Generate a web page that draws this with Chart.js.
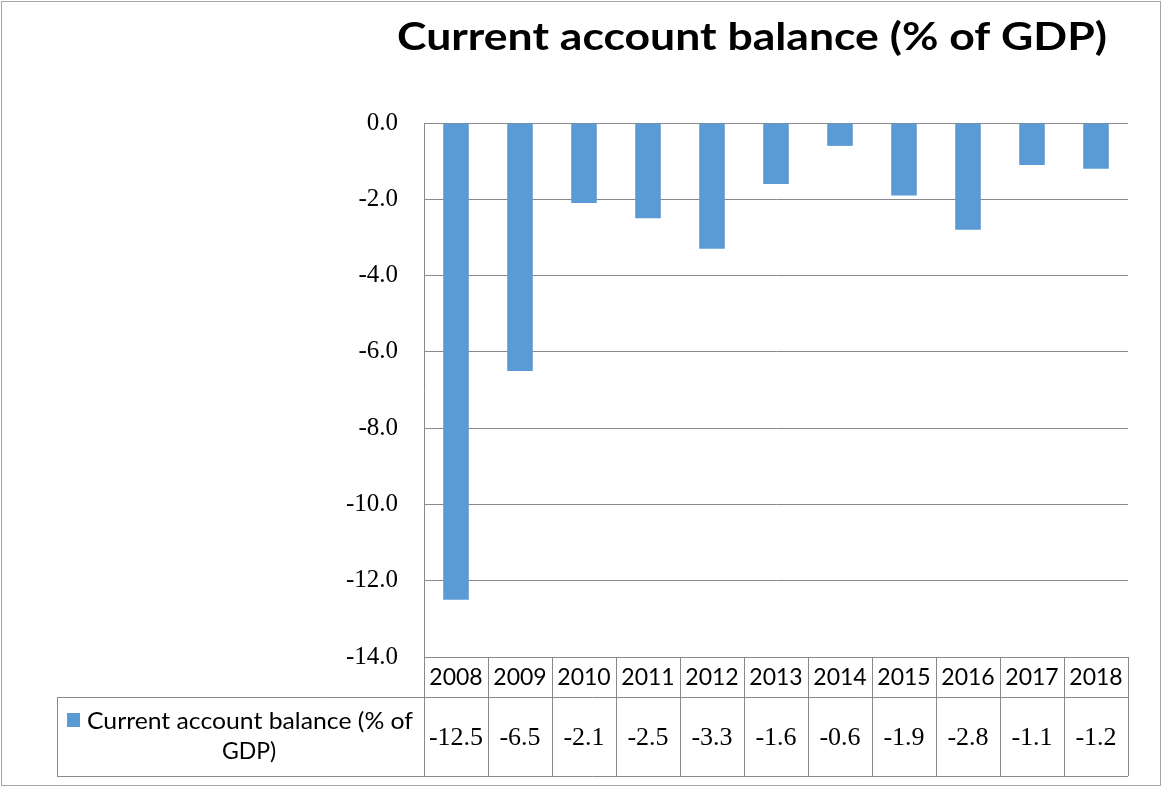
<!DOCTYPE html>
<html>
<head>
<meta charset="utf-8">
<script src="https://cdn.jsdelivr.net/npm/chart.js@4.4.0/dist/chart.umd.min.js"></script>
<style>
  html, body { margin: 0; padding: 0; background: #fff; }
  canvas { display: block; }
</style>
</head>
<body>
<canvas id="ca-chart" width="1164" height="789"></canvas>
<script>
(function(){
  'use strict';

  const TITLE = 'Current account balance (% of GDP)';
  const SERIES_NAME = ['Current account balance (% of', 'GDP)'];
  const years = ['2008', '2009', '2010', '2011', '2012', '2013', '2014', '2015', '2016', '2017', '2018'];
  const balance = [-12.5, -6.5, -2.1, -2.5, -3.3, -1.6, -0.6, -1.9, -2.8, -1.1, -1.2];
  const yMin = -14;
  const yMax = 0;
  const yStep = 2;

  const BLUE = '#5b9bd5';
  const GRID = '#898989';
  const SANS = 'Lato, "Open Sans", sans-serif';
  const SERIF = '"Liberation Serif", "DejaVu Serif", serif';

  // draw text stretched to a given width (the original is a scaled-up Excel chart)
  function stretchText(ctx, text, cx, y, width) {
    const w = ctx.measureText(text).width;
    ctx.save();
    ctx.translate(cx, y);
    ctx.scale(width / w, 1);
    ctx.fillText(text, 0, 0);
    ctx.restore();
  }

  // header band 40px, value row 79px, legend cell starts at x=57
  const tablePlugin = {
    id: 'dataTable',
    afterDraw(chart) {
      const ctx = chart.ctx;
      const x = chart.scales.x;
      const area = chart.chartArea;
      const colW = (area.right - area.left) / years.length;
      const top = area.bottom;
      const mid = top + 40;
      const bot = mid + 79;
      const legendLeft = 57;

      ctx.save();
      ctx.strokeStyle = GRID;
      ctx.lineWidth = 1;
      ctx.beginPath();
      ctx.moveTo(area.left, top + 0.5); ctx.lineTo(area.right, top + 0.5);
      ctx.moveTo(legendLeft, mid + 0.5); ctx.lineTo(area.right, mid + 0.5);
      ctx.moveTo(legendLeft, bot + 0.5); ctx.lineTo(area.right, bot + 0.5);
      ctx.moveTo(legendLeft + 0.5, mid); ctx.lineTo(legendLeft + 0.5, bot);
      for (let i = 0; i <= years.length; i++) {
        const px = Math.round(area.left + i * colW) + 0.5;
        ctx.moveTo(px, top); ctx.lineTo(px, bot);
      }
      ctx.stroke();

      ctx.fillStyle = '#000';
      ctx.textAlign = 'center';
      ctx.textBaseline = 'middle';
      years.forEach((yr, i) => {
        const cx = x.getPixelForValue(i);
        ctx.font = '23px ' + SANS;
        ctx.fillText(yr, cx, top + 21);
        ctx.font = '26px ' + SERIF;
        ctx.fillText(balance[i].toFixed(1), cx, mid + 41);
      });

      // legend key in the row header
      ctx.fillStyle = BLUE;
      ctx.fillRect(67, 713, 13, 14);
      ctx.fillStyle = '#000';
      ctx.font = '23px ' + SANS;
      stretchText(ctx, SERIES_NAME[0], 250, 722, 326);
      ctx.fillText(SERIES_NAME[1], 249, 752);

      // title
      ctx.font = 'bold 38px ' + SANS;
      ctx.textBaseline = 'alphabetic';
      stretchText(ctx, TITLE, 752, 50, 710);

      // outer frame
      ctx.strokeStyle = '#a6a6a6';
      ctx.strokeRect(1.5, 1.5, 1159, 784);
      ctx.restore();
    }
  };

  const ctx = document.getElementById('ca-chart').getContext('2d');
  new Chart(ctx, {
    type: 'bar',
    data: {
      labels: years,
      datasets: [{
        label: SERIES_NAME.join(' '),
        data: balance,
        backgroundColor: BLUE,
        borderWidth: 0,
        barPercentage: 0.4,
        categoryPercentage: 1.0
      }]
    },
    options: {
      responsive: false,
      animation: false,
      devicePixelRatio: 1,
      layout: { padding: { left: 0, right: 36, top: 123, bottom: 132 } },
      plugins: {
        legend: { display: false },
        title: { display: false },
        tooltip: { enabled: false }
      },
      scales: {
        x: { display: false },
        y: {
          min: yMin,
          max: yMax,
          afterFit: (scale) => { scale.width = 424; },
          ticks: {
            stepSize: yStep,
            padding: 26,
            color: '#000',
            font: { family: SERIF, size: 25 },
            callback: (v) => (v === 0 ? '0.0' : Number(v).toFixed(1))
          },
          grid: { color: GRID, drawTicks: false },
          border: { display: true, color: GRID }
        }
      }
    },
    plugins: [tablePlugin]
  });
})();
</script>
</body>
</html>
